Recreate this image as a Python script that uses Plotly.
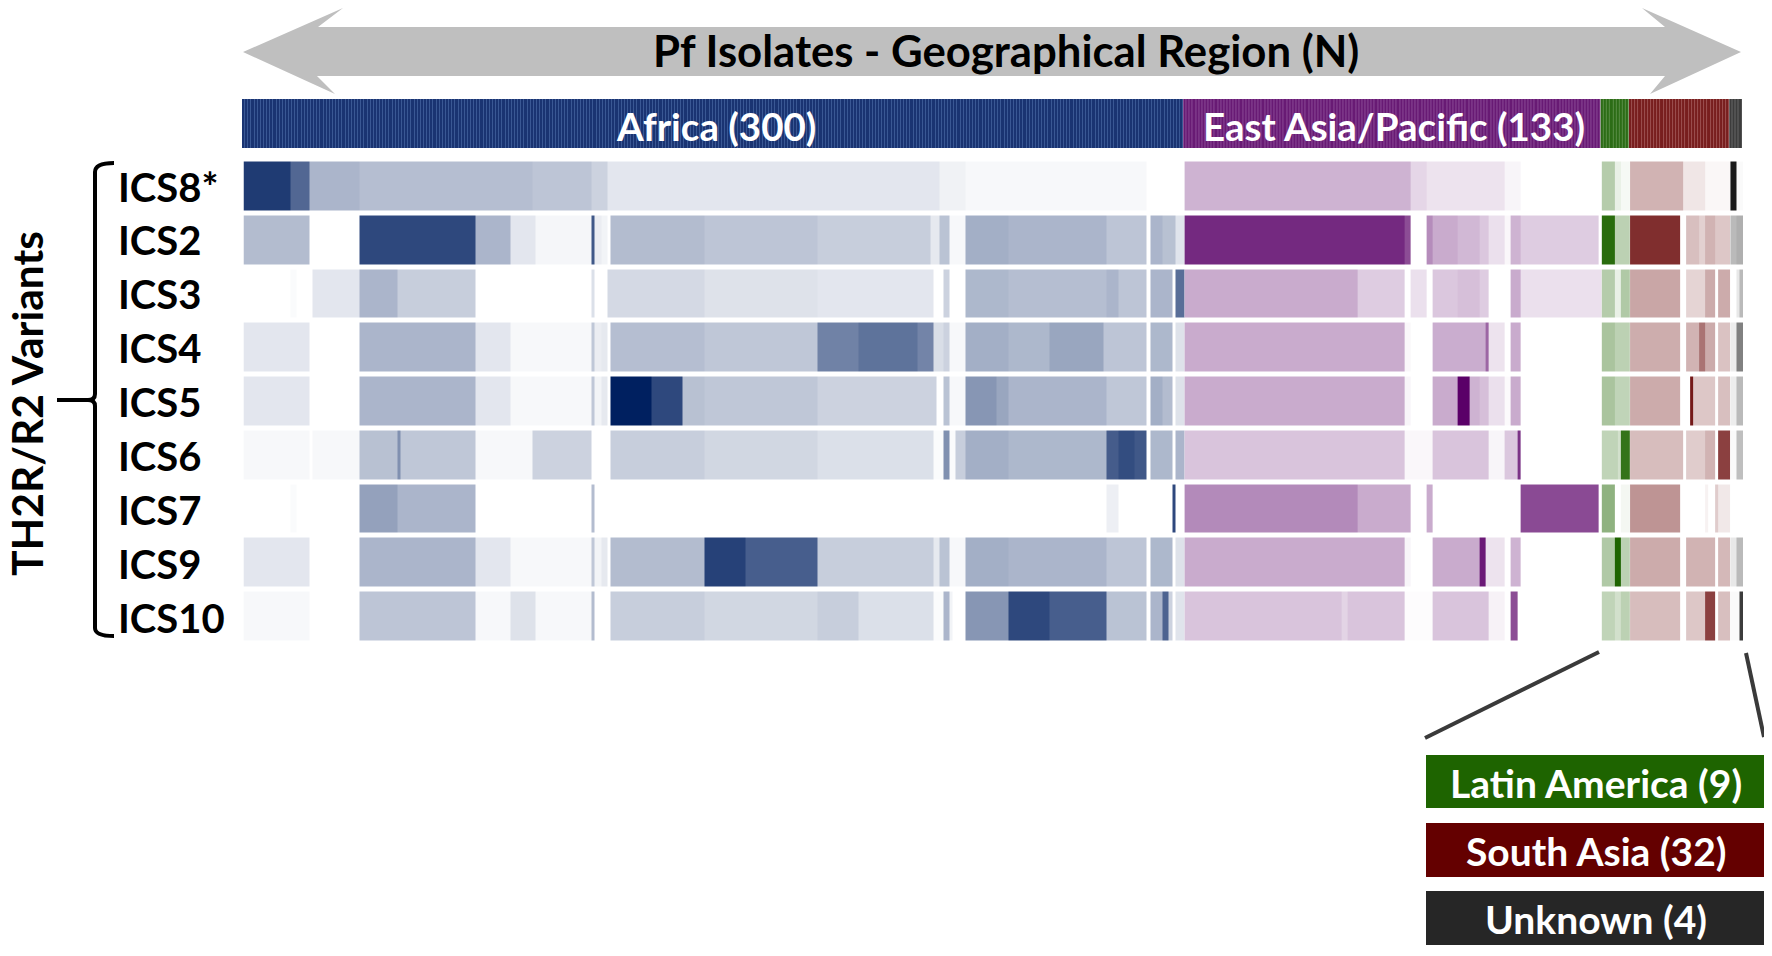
"""Pf isolates by region vs TH2R/R2 variants: stacked heatmap strips."""
import plotly.graph_objects as go

# the page body keeps an 8px margin, so the figure is 8px short and coordinates shift by that
PAGE_MARGIN = 8
W, H = 1772 - PAGE_MARGIN, 956 - PAGE_MARGIN
FONT = 'Lato'

row_labels = ['ICS8*', 'ICS2', 'ICS3', 'ICS4', 'ICS5', 'ICS6', 'ICS7', 'ICS9', 'ICS10']

region_names = ['Africa', 'East Asia/Pacific', 'Latin America', 'South Asia', 'Unknown']
region_counts = [300, 133, 9, 32, 4]
region_colors = ['#002060', '#5a0068', '#1e6400', '#640000', '#1a1a1a']
bar_dark = ['#1a3472', '#681a74', '#2c6c16', '#781e1e', '#3c3c3c']
bar_light = ['#3a5894', '#8a4a96', '#5a8e46', '#9c5050', '#666666']

# (last isolate of the run, shading level) for each row, left to right
ics8 = [(15, .88), (21, .68), (37, .33), (92, .29), (111, .26), (116, .2), (222, .11), (230, .06),
        (288, .03), (300, 0),
        (372, .3), (377, .16), (402, .11), (407, .04), (433, 0),
        (437, .33), (439, .1), (442, .04),
        (459, .3), (466, .1), (474, .03),
        (476, 1), (478, .02)]
ics2 = [(21, .3), (37, 0), (74, .82), (85, .33), (93, .11), (111, .04), (112, .75), (114, .08), (116, .05),
        (117, 0), (147, .3), (183, .26), (219, .22), (222, .1), (225, .27), (230, .03), (244, .36), (275, .33),
        (288, .26), (289, 0), (293, .33), (297, .28), (300, .12),
        (370, .84), (372, .7), (377, 0), (379, .45), (387, .33), (394, .28), (397, .22), (402, .12), (404, .03),
        (407, .3), (432, .2), (433, 0),
        (437, .95), (442, .3),
        (458, .82), (460, 0), (464, .25), (466, .18), (469, .3), (474, .22),
        (476, .3), (478, .35)]
ics3 = [(15, 0), (17, .02), (22, 0), (37, .11), (49, .33), (74, .22), (111, 0), (112, .14), (116, 0),
        (147, .17), (183, .13), (220, .11), (223, 0), (225, .2), (230, 0), (244, .32), (275, .29), (279, .33),
        (288, .26), (289, 0), (296, .33), (297, 0), (300, .65),
        (355, .33), (370, .2), (372, 0), (377, .12), (379, 0), (387, .22), (394, .25), (397, .2), (404, 0),
        (407, .33), (433, .12),
        (437, .33), (439, .1), (442, .35),
        (458, .35), (460, 0), (466, .17), (469, .33), (470, 0), (474, .33),
        (476, 0), (477, .1), (478, .3)]
ics4 = [(21, .11), (37, 0), (74, .33), (85, .11), (111, .03), (112, .25), (114, .08), (116, .1), (117, 0),
        (147, .29), (183, .25), (196, .56), (215, .63), (220, .55), (223, .15), (225, .2), (230, .03), (244, .36),
        (257, .32), (274, .4), (288, .26), (289, 0), (296, .32), (297, 0), (300, .13),
        (370, .33), (372, .03), (379, 0), (396, .32), (397, .6), (402, .11), (404, 0), (407, .33), (433, 0),
        (437, .38), (442, .3),
        (458, .32), (460, 0), (464, .3), (466, .55), (469, .33), (470, 0), (474, .24),
        (476, .08), (478, .55)]
ics5 = [(21, .11), (37, 0), (74, .33), (85, .11), (111, .03), (112, .25), (114, .05), (116, .1), (117, 0),
        (130, 1), (140, .82), (147, .28), (183, .25), (221, .2), (223, 0), (225, .27), (230, .03), (240, .47),
        (244, .4), (275, .33), (288, .25), (289, 0), (293, .36), (296, .3), (297, 0), (300, .13),
        (370, .33), (372, .04), (379, 0), (387, .33), (391, 1), (394, .3), (397, .25), (402, .12), (404, .02),
        (407, .33), (433, 0),
        (437, .38), (442, .28),
        (458, .33), (461, 0), (462, .9), (469, .22), (470, 0), (474, .25),
        (476, .08), (478, .3)]
ics6 = [(21, .03), (22, 0), (37, .03), (49, .28), (50, .5), (74, .25), (92, .03), (111, .2), (117, 0),
        (147, .22), (183, .18), (220, .14), (223, .02), (225, .5), (227, .02), (230, .22), (244, .36), (275, .32),
        (279, .73), (284, .8), (288, .75), (289, 0), (296, .32), (297, 0), (300, .33),
        (370, .23), (379, .03), (397, .23), (402, .04), (406, .22), (407, .8), (433, 0),
        (438, .28), (439, .2), (442, .9),
        (459, .26), (460, 0), (466, .2), (469, .3), (470, 0), (474, .75),
        (476, .02), (478, .28)]
ics7 = [(15, 0), (17, .02), (37, 0), (49, .42), (74, .33), (111, 0), (112, .3), (275, 0), (279, .07),
        (296, 0), (297, .82), (300, 0),
        (355, .46), (372, .33), (377, 0), (379, .33), (407, 0), (432, .71), (433, 0),
        (437, .5), (439, 0), (442, .05),
        (458, .42), (466, 0), (467, .05), (469, 0), (470, .2), (474, .09),
        (478, 0)]
ics9 = [(21, .11), (37, 0), (74, .33), (85, .11), (111, .03), (112, .25), (114, .05), (116, .1), (117, 0),
        (147, .3), (160, .85), (183, .72), (220, .22), (222, .1), (225, .27), (230, .03), (244, .36), (275, .33),
        (288, .26), (289, 0), (296, .32), (297, 0), (300, .13),
        (370, .33), (372, .04), (379, 0), (394, .33), (396, .9), (402, .11), (404, 0), (407, .3), (433, 0),
        (437, .35), (439, 1), (442, .3),
        (458, .33), (460, 0), (469, .3), (470, 0), (474, .28),
        (476, .1), (478, .3)]
ics10 = [(21, .03), (37, 0), (74, .26), (85, .03), (93, .13), (111, .03), (112, .3), (117, 0),
         (147, .22), (183, .18), (196, .22), (220, .14), (223, .02), (225, .33), (226, .05), (230, 0), (244, .47),
         (257, .82), (275, .72), (288, .27), (289, 0), (293, .33), (295, .7), (296, .2), (297, 0), (300, .12),
         (350, .23), (352, .17), (370, .23), (379, .01), (397, .23), (402, .05), (404, 0), (406, .7), (433, 0),
         (437, .28), (439, .2), (442, .3),
         (458, .26), (460, 0), (466, .22), (469, .75), (470, 0), (474, .25),
         (477, .02), (478, .85)]
rows = [ics8, ics2, ics3, ics4, ics5, ics6, ics7, ics9, ics10]


def expand(runs):
    cells, start = [], 0
    for end, level in runs:
        cells += [level] * (end - start)
        start = end
    return cells


def px(x):
    return (x - PAGE_MARGIN) / W


def py(y):
    return 1 - (y - PAGE_MARGIN) / H


def pt(x, y):
    return f'{px(x):.5f},{py(y):.5f}'


def poly(points):
    return 'M' + ' L'.join(pt(x, y) for x, y in points) + ' Z'


def label(x, y, text, size, color='white', xanchor='center', **kw):
    return dict(x=px(x), y=py(y), xref='paper', yref='paper', text=f'<b>{text}</b>', showarrow=False,
                xanchor=xanchor, yanchor='middle', font=dict(family=FONT, size=size, color=color), **kw)


grid = [expand(r) for r in rows]
fig = go.Figure()

start = 0
for count, color, dark, light in zip(region_counts, region_colors, bar_dark, bar_light):
    end = start + count
    xs = [i + 0.5 for i in range(start, end)]
    fig.add_trace(go.Heatmap(x=xs, y=row_labels, z=[r[start:end] for r in grid], zmin=0, zmax=1,
                             colorscale=[[0, 'white'], [1, color]], showscale=False, ygap=5,
                             xaxis='x', yaxis='y', hoverinfo='skip'))
    # region strip: lighter layer shows through the 1px gaps of the darker one
    fig.add_trace(go.Heatmap(x=xs, y=['region'], z=[[1] * count], zmin=0, zmax=1,
                             colorscale=[[0, light], [1, light]], showscale=False,
                             xaxis='x2', yaxis='y2', hoverinfo='skip'))
    fig.add_trace(go.Heatmap(x=xs, y=['region'], z=[[1] * count], zmin=0, zmax=1,
                             colorscale=[[0, dark], [1, dark]], showscale=False, xgap=1,
                             xaxis='x2', yaxis='y2', hoverinfo='skip'))
    start = end

arrow = [(243, 52), (343, 8), (318, 27), (1665, 27), (1642, 8), (1741, 52), (1650, 94), (1665, 76), (317, 76), (335, 94)]
bracket = (f'M{pt(114, 163)} Q{pt(95, 163)} {pt(95, 172)} L{pt(95, 394)} Q{pt(95, 400)} {pt(88, 400)} '
           f'L{pt(57, 400)} M{pt(88, 400)} Q{pt(95, 400)} {pt(95, 406)} L{pt(95, 628)} Q{pt(95, 636)} {pt(114, 636)}')

shapes = [dict(type='path', path=poly(arrow), xref='paper', yref='paper', fillcolor='#bfbfbf', line_width=0),
          dict(type='path', path=bracket, xref='paper', yref='paper', line=dict(color='black', width=4))]
for x0, y0, x1, y1 in [(1425, 738, 1599, 652), (1746, 653, 1764, 737)]:
    shapes.append(dict(type='line', xref='paper', yref='paper', x0=px(x0), y0=py(y0), x1=px(x1), y1=py(y1),
                       line=dict(color='#3a3a3a', width=4)))
for (y0, y1), c in zip([(755, 808), (823, 877), (891, 945)], ['#1e6400', '#640000', '#262626']):
    shapes.append(dict(type='rect', xref='paper', yref='paper', x0=px(1426), x1=px(1766), y0=py(y0), y1=py(y1),
                       fillcolor=c, line_width=0))

anns = [label(1006, 50, 'Pf Isolates - Geographical Region (N)', 43.7, 'black'),
        label(716, 126, f'{region_names[0]} ({region_counts[0]})', 38.5),
        label(1394, 126, f'{region_names[1]} ({region_counts[1]})', 38.5),
        label(1596, 783, f'{region_names[2]} ({region_counts[2]})', 39),
        label(1596, 851, f'{region_names[3]} ({region_counts[3]})', 39),
        label(1596, 919, f'{region_names[4]} ({region_counts[4]})', 39),
        label(26, 404, 'TH2R/R2 Variants', 42.5, 'black', textangle=-90)]
for i, name in enumerate(row_labels):
    anns.append(label(116, 186.5 + i * 53.9, name, 40, 'black', xanchor='left'))

fig.update_layout(
    width=W, height=H, margin=dict(l=0, r=0, t=0, b=0), autosize=False,
    paper_bgcolor='white', plot_bgcolor='white', showlegend=False,
    xaxis=dict(domain=[px(243.5), px(1743)], range=[0, 478], visible=False),
    yaxis=dict(domain=[py(643.5), py(159.5)], autorange='reversed', visible=False, type='category'),
    xaxis2=dict(domain=[px(242), px(1742)], range=[0, 478], visible=False, anchor='y2'),
    yaxis2=dict(domain=[py(148), py(99)], visible=False, type='category', anchor='x2'),
    shapes=shapes, annotations=anns,
)
fig.write_html('out.html')
